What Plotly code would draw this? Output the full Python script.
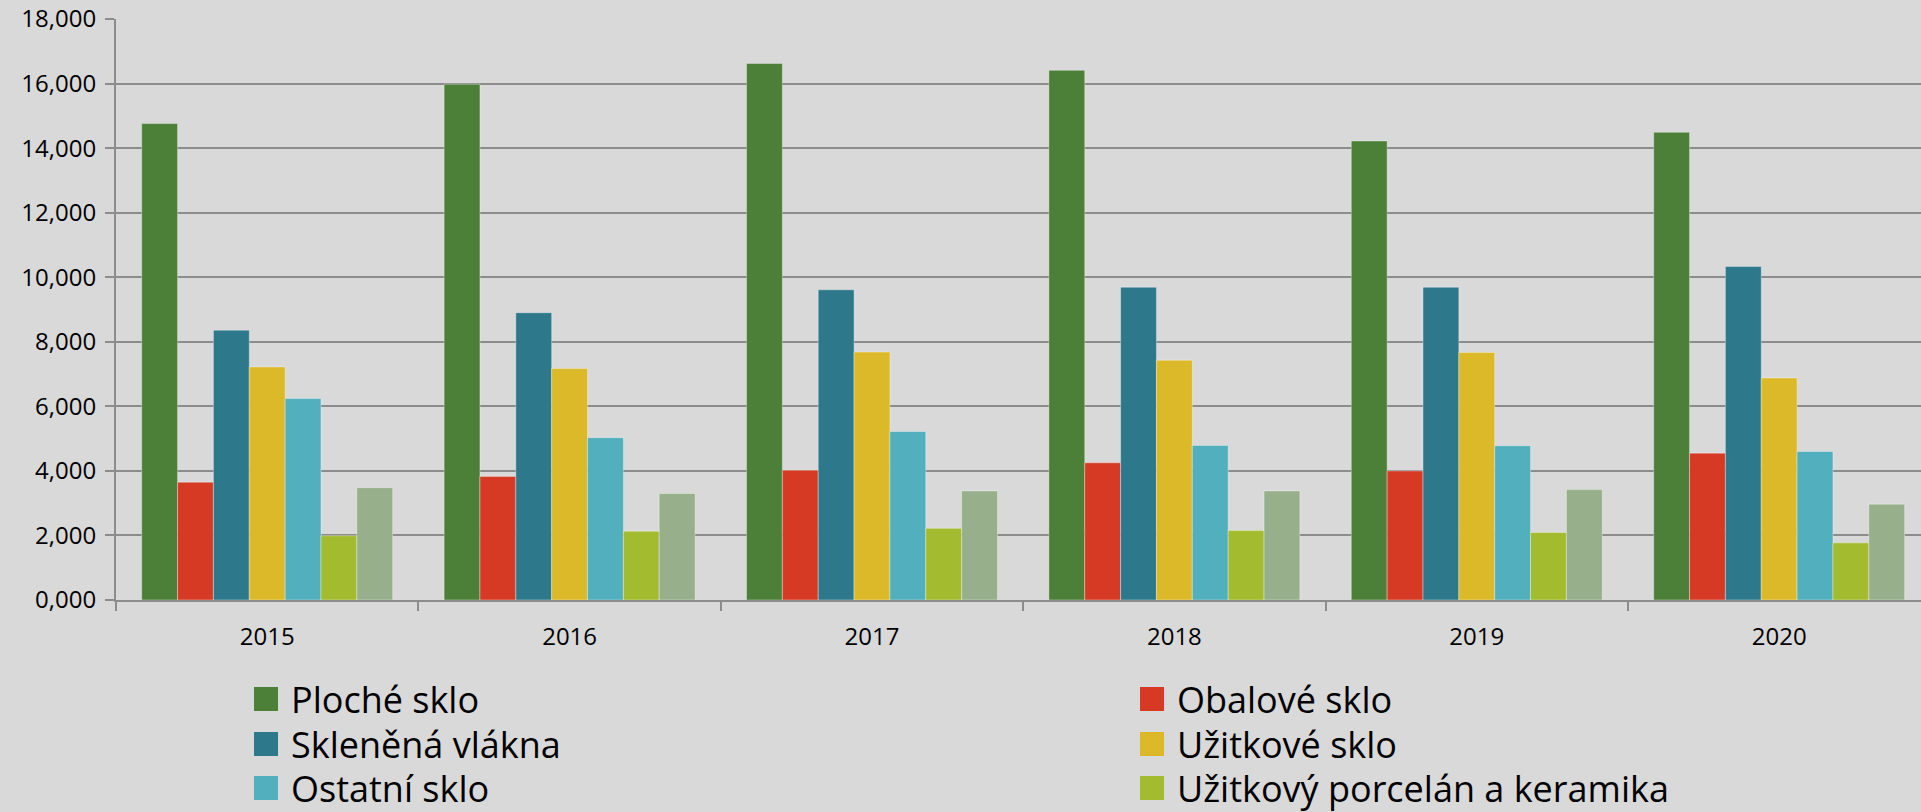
import plotly.graph_objects as go

# roky a řady (tis. t)
years = ["2015", "2016", "2017", "2018", "2019", "2020"]

names = ["Ploché sklo", "Obalové sklo", "Skleněná vlákna", "Užitkové sklo",
         "Ostatní sklo", "Užitkový porcelán a keramika", "Ostatní keramika"]
colors = ["#4C7F38", "#D63A25", "#2E788C", "#DBB928", "#52AFBD", "#A3BB2E", "#97B08B"]

ploche = [14.76, 15.98, 16.62, 16.41, 14.22, 14.49]
obalove = [3.65, 3.83, 4.02, 4.25, 4.00, 4.55]
vlakna = [8.36, 8.90, 9.61, 9.69, 9.69, 10.33]
uzitkove = [7.22, 7.17, 7.68, 7.43, 7.67, 6.88]
ostatni_sklo = [6.24, 5.03, 5.22, 4.79, 4.78, 4.60]
porcelan = [1.99, 2.13, 2.22, 2.15, 2.09, 1.77]
ostatni_ker = [3.48, 3.30, 3.38, 3.38, 3.42, 2.97]

series = [ploche, obalove, vlakna, uzitkove, ostatni_sklo, porcelan, ostatni_ker]

yticks = [0, 2, 4, 6, 8, 10, 12, 14, 16, 18]

# rozměry
W, H = 1921, 812
ml, mt, mb = 116, 19, 212
pw, ph = W - ml, H - mt - mb

fig = go.Figure()
for name, col, vals in zip(names, colors, series):
    fig.add_trace(go.Bar(x=years, y=vals, name=name, marker_color=col,
                         marker_line=dict(color="rgba(255,255,255,0.35)", width=1),
                         showlegend=False))

# ruční legenda ve dvou sloupcích (7. položka je mimo obrázek)
col_x = [254, 1140]
row_y = [699, 744, 788]
for i, (name, col) in enumerate(zip(names[:6], colors[:6])):
    px_ = col_x[i % 2]
    py_ = row_y[i // 2]
    xp = (px_ - ml) / pw
    yp = (H - mb - py_) / ph
    fig.add_shape(type="rect", xref="paper", yref="paper",
                  xsizemode="pixel", ysizemode="pixel",
                  xanchor=xp, yanchor=yp, x0=0, x1=24, y0=-12, y1=12,
                  fillcolor=col, line_width=0)
    fig.add_annotation(xref="paper", yref="paper", x=(px_ + 35 - ml) / pw, y=yp,
                       text=name, showarrow=False, xanchor="left", yanchor="middle",
                       font=dict(size=36, color="#000000"))

fig.update_layout(
    width=W, height=H,
    margin=dict(l=ml, r=0, t=mt, b=mb),
    paper_bgcolor="#D9D9D9", plot_bgcolor="#D9D9D9",
    barmode="group", bargap=0.17, bargroupgap=0,
    separators=", ",
    font=dict(family="Open Sans, sans-serif", color="#000000"),
)
fig.update_xaxes(range=[-0.5, 5.469], showline=True, linecolor="#8C8C8C", linewidth=2,
                 ticks="outside", tickson="boundaries", ticklen=9, tickcolor="#8C8C8C",
                 tickwidth=2, ticklabelstandoff=14, tickfont=dict(size=24),
                 showgrid=False)
fig.update_yaxes(range=[0, 18], tickvals=yticks, tickformat=".3f",
                 showline=True, linecolor="#8C8C8C", linewidth=2,
                 ticks="outside", ticklen=9, tickcolor="#8C8C8C", tickwidth=2,
                 ticklabelstandoff=4, tickfont=dict(size=24), ticklabeloverflow="allow",
                 showgrid=True, gridcolor="#8C8C8C", gridwidth=2, zeroline=False)

fig.write_html("out.html", config={"displayModeBar": False},
               post_script="document.body.style.margin='0';")
